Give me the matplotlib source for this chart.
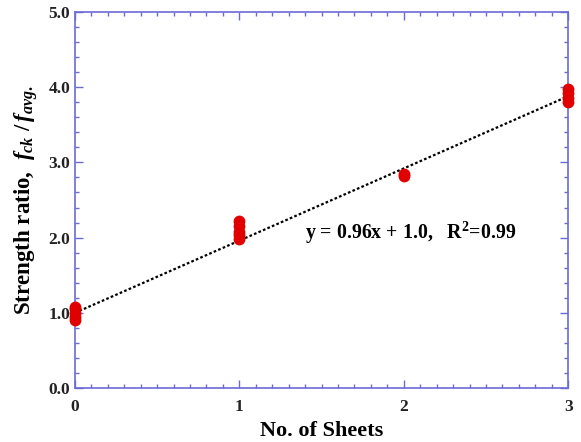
import matplotlib
matplotlib.use("Agg")
import matplotlib.pyplot as plt
import numpy as np
from matplotlib.ticker import MultipleLocator

plt.rcParams['font.family'] = 'Liberation Serif'
plt.rcParams['font.weight'] = 'bold'
plt.rcParams['mathtext.fontset'] = 'custom'
plt.rcParams['mathtext.rm'] = 'Liberation Serif:bold'
plt.rcParams['mathtext.it'] = 'Liberation Serif:italic:bold'
plt.rcParams['mathtext.bf'] = 'Liberation Serif:bold'

# measured strength ratios per number of sheets
sheets = [0, 0, 0, 0, 0,
          1, 1, 1, 1, 1,
          2, 2,
          3, 3, 3, 3]
ratio = [0.90, 0.95, 1.00, 1.05, 1.08,
         1.98, 2.03, 2.08, 2.15, 2.22,
         2.82, 2.84,
         3.80, 3.85, 3.92, 3.98]

# linear fit reported on the chart
slope, intercept = 0.96, 1.0

axis_col = '#6b6bd6'

fig, ax = plt.subplots(figsize=(5.81, 4.42), dpi=100)
fig.subplots_adjust(left=0.129, right=0.978, top=0.973, bottom=0.122)

xfit = np.array([0, 3])
ax.plot(xfit, slope * xfit + intercept, color='black', linestyle=(0, (1.2, 1.0)), lw=1.6, zorder=2)
ax.plot(sheets, ratio, 'o', color='#e00000', markersize=8.5, markeredgewidth=0, zorder=3, clip_on=False)

ax.set_xlim(0, 3)
ax.set_ylim(0, 5)
ax.xaxis.set_major_locator(MultipleLocator(1))
ax.xaxis.set_minor_locator(MultipleLocator(0.1))
ax.yaxis.set_major_locator(MultipleLocator(1))
ax.yaxis.set_minor_locator(MultipleLocator(0.2))
ax.set_yticklabels([f"{v:.1f}" for v in ax.get_yticks()])

ax.tick_params(which='both', direction='in', top=True, right=True, colors=axis_col, labelcolor='#222222', labelsize=12.5)
ax.tick_params(which='major', length=6, width=1)
ax.tick_params(which='minor', length=3, width=1)
ax.tick_params(axis='x', pad=8)
for s in ax.spines.values():
    s.set_color(axis_col)
    s.set_linewidth(1.2)

ax.set_xlabel("No. of Sheets", fontsize=16, fontweight='bold', labelpad=4)
ax.set_ylabel(r"Strength ratio,  $f_{ck}\ /\,f_{avg.}$", fontsize=16.5, fontweight='bold', labelpad=6)

ax.text(1.4, 2.06, r"y = 0.96x + 1.0,   R$^2$=0.99", fontsize=14.3, fontweight='bold', va='center')

fig.savefig("out.png", dpi=100)
